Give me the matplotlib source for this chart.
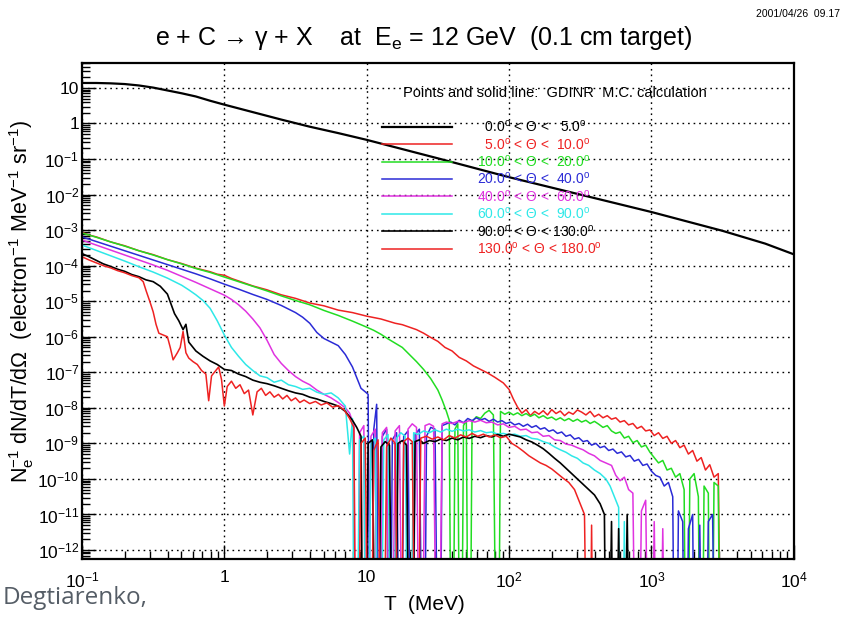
import numpy as np
import matplotlib
matplotlib.use("Agg")
import matplotlib.pyplot as plt
from matplotlib.ticker import LogLocator, FuncFormatter, NullFormatter

plt.rcParams['font.family'] = ['Liberation Sans', 'DejaVu Sans']
plt.rcParams['mathtext.fontset'] = 'custom'
plt.rcParams['mathtext.rm'] = 'Liberation Sans'
plt.rcParams['mathtext.it'] = 'Liberation Sans:italic'
plt.rcParams['mathtext.bf'] = 'Liberation Sans:bold'

# (log10 T[MeV], log10 yield) pairs; -20 marks an empty bin
th0_5 = [(-1.0, 1.14), (-0.9, 1.14), (-0.8, 1.13), (-0.7, 1.11), (-0.6, 1.07), (-0.5, 1.01),
         (-0.4, 0.93), (-0.3, 0.85), (-0.2, 0.76), (-0.1, 0.64), (0.0, 0.53), (0.2, 0.32),
         (0.4, 0.11), (0.6, -0.09), (0.8, -0.27), (1.0, -0.46), (1.5, -0.98), (2.0, -1.51),
         (2.5, -2.0), (3.0, -2.49), (3.5, -3.02), (3.8, -3.38), (4.0, -3.68)]

th5_10 = [(-1.0, -3.06), (-0.95, -3.14), (-0.9, -3.19), (-0.8, -3.33), (-0.7, -3.44), (-0.6, -3.58),
          (-0.5, -3.69), (-0.4, -3.83), (-0.3, -3.94), (-0.2, -4.07), (-0.1, -4.17), (-0.05, -4.24),
          (0.0, -4.27), (0.05, -4.36), (0.1, -4.43), (0.2, -4.57), (0.3, -4.68), (0.4, -4.82),
          (0.5, -4.92), (0.6, -5.05), (0.7, -5.13), (0.8, -5.25), (0.9, -5.32), (1.0, -5.42),
          (1.1, -5.50), (1.2, -5.62), (1.25, -5.66), (1.3, -5.73), (1.35, -5.80), (1.4, -5.90),
          (1.45, -6.02), (1.5, -6.13), (1.55, -6.30), (1.6, -6.40), (1.65, -6.58), (1.7, -6.68),
          (1.75, -6.82), (1.8, -6.92), (1.85, -7.02), (1.9, -7.14), (1.93, -7.22), (1.96, -7.30),
          (2.0, -7.48), (2.03, -7.75), (2.06, -7.98), (2.09, -8.15), (2.12, -8.05), (2.15, -8.22),
          (2.18, -8.10), (2.21, -8.18), (2.24, -8.08), (2.27, -8.20), (2.30, -8.05), (2.33, -8.16),
          (2.36, -8.09), (2.39, -8.22), (2.42, -8.12), (2.45, -8.18), (2.48, -8.06), (2.51, -8.12),
          (2.54, -8.20), (2.57, -8.10), (2.60, -8.25), (2.63, -8.18), (2.66, -8.28), (2.69, -8.22),
          (2.72, -8.32), (2.75, -8.28), (2.78, -8.40), (2.81, -8.36), (2.84, -8.48), (2.87, -8.44),
          (2.90, -8.58), (2.93, -8.52), (2.96, -8.65), (2.99, -8.62), (3.02, -8.78), (3.05, -8.70),
          (3.08, -8.86), (3.11, -8.80), (3.14, -9.00), (3.17, -8.92), (3.20, -9.12), (3.23, -9.05),
          (3.26, -9.30), (3.29, -9.20), (3.32, -9.50), (3.35, -9.40), (3.38, -9.75), (3.41, -9.60),
          (3.44, -9.95), (3.47, -9.85), (3.50, -20)]

th10_20 = [(-1.0, -3.08), (-0.9, -3.20), (-0.8, -3.33), (-0.7, -3.45), (-0.6, -3.58), (-0.5, -3.70),
           (-0.4, -3.83), (-0.3, -3.95), (-0.2, -4.08), (-0.1, -4.19), (0.0, -4.32), (0.1, -4.45),
           (0.2, -4.58), (0.3, -4.71), (0.4, -4.85), (0.5, -4.98), (0.6, -5.10), (0.7, -5.26),
           (0.8, -5.40), (0.9, -5.56), (1.0, -5.73), (1.05, -5.82), (1.1, -5.93), (1.15, -6.06),
           (1.2, -6.18), (1.25, -6.30), (1.3, -6.50), (1.35, -6.70), (1.4, -6.92), (1.45, -7.18),
           (1.5, -7.50), (1.53, -7.78), (1.56, -8.10), (1.58, -8.35), (1.60, -20), (1.62, -8.6),
           (1.64, -8.45), (1.66, -20), (1.68, -8.5), (1.70, -8.35), (1.72, -20), (1.74, -8.4),
           (1.77, -8.25), (1.80, -8.30), (1.83, -8.15), (1.86, -8.07), (1.89, -8.20), (1.92, -20),
           (1.94, -8.10), (1.97, -8.18), (2.00, -8.12), (2.03, -8.20), (2.06, -8.14), (2.09, -8.22),
           (2.12, -8.16), (2.15, -8.24), (2.18, -8.18), (2.21, -8.28), (2.24, -8.22), (2.27, -8.30),
           (2.30, -8.26), (2.33, -8.34), (2.36, -8.28), (2.39, -8.36), (2.42, -8.30), (2.45, -8.38),
           (2.48, -8.32), (2.51, -8.40), (2.54, -8.35), (2.57, -8.44), (2.60, -8.38), (2.63, -8.46),
           (2.66, -8.55), (2.69, -8.50), (2.72, -8.65), (2.75, -8.72), (2.78, -8.68), (2.81, -8.85),
           (2.84, -8.80), (2.87, -8.98), (2.90, -8.92), (2.93, -9.10), (2.96, -9.05), (2.99, -9.25),
           (3.02, -9.40), (3.05, -9.55), (3.08, -9.48), (3.11, -9.75), (3.14, -9.70), (3.17, -9.95),
           (3.20, -9.85), (3.23, -10.3), (3.25, -20), (3.27, -10.0), (3.30, -9.85), (3.33, -10.5),
           (3.35, -20), (3.37, -10.2), (3.40, -10.4), (3.42, -20), (3.44, -10.1), (3.47, -10.2),
           (3.49, -20)]

th20_40 = [(-1.0, -3.19), (-0.9, -3.32), (-0.8, -3.45), (-0.7, -3.58), (-0.6, -3.71), (-0.5, -3.84),
           (-0.4, -3.97), (-0.3, -4.10), (-0.2, -4.23), (-0.1, -4.37), (0.0, -4.52), (0.1, -4.66),
           (0.2, -4.81), (0.3, -4.95), (0.4, -5.12), (0.5, -5.32), (0.55, -5.45), (0.6, -5.62),
           (0.65, -5.88), (0.7, -6.05), (0.75, -6.15), (0.8, -6.25), (0.85, -6.50), (0.9, -6.85),
           (0.93, -7.15), (0.96, -7.45), (0.99, -7.55), (1.01, -7.62), (1.03, -20), (1.05, -8.6),
           (1.07, -7.9), (1.09, -20), (1.11, -8.8), (1.14, -8.6), (1.16, -20), (1.18, -8.9),
           (1.21, -8.7), (1.24, -20), (1.26, -8.8), (1.29, -8.65), (1.32, -20), (1.34, -8.75),
           (1.37, -8.6), (1.40, -20), (1.42, -8.8), (1.45, -8.55), (1.48, -8.6), (1.51, -20),
           (1.53, -8.5), (1.56, -8.45), (1.59, -8.40), (1.62, -8.48), (1.65, -8.35), (1.68, -8.42),
           (1.71, -8.30), (1.74, -8.36), (1.77, -8.28), (1.80, -8.34), (1.83, -8.30), (1.86, -8.38),
           (1.89, -8.32), (1.92, -8.40), (1.95, -8.36), (1.98, -8.44), (2.01, -8.40), (2.04, -8.48),
           (2.07, -8.44), (2.10, -8.52), (2.13, -8.46), (2.16, -8.55), (2.19, -8.50), (2.22, -8.60),
           (2.25, -8.56), (2.28, -8.66), (2.31, -8.62), (2.34, -8.72), (2.37, -8.68), (2.40, -8.80),
           (2.43, -8.76), (2.46, -8.88), (2.49, -8.84), (2.52, -8.95), (2.55, -8.92), (2.58, -9.05),
           (2.61, -9.00), (2.64, -9.12), (2.67, -9.08), (2.70, -9.20), (2.73, -9.16), (2.76, -9.28),
           (2.79, -9.24), (2.82, -9.38), (2.85, -9.34), (2.88, -9.50), (2.91, -9.45), (2.94, -9.62),
           (2.97, -9.58), (3.00, -9.78), (3.03, -9.90), (3.06, -9.95), (3.09, -10.2), (3.12, -10.1),
           (3.15, -10.5), (3.17, -20), (3.19, -10.9), (3.22, -11.2), (3.24, -20), (3.26, -11.4),
           (3.29, -11.0), (3.31, -20), (3.34, -11.3), (3.37, -20), (3.40, -11.2), (3.43, -11.0),
           (3.46, -20)]

th40_60 = [(-1.0, -3.28), (-0.9, -3.42), (-0.8, -3.56), (-0.7, -3.70), (-0.6, -3.84), (-0.5, -3.98),
           (-0.4, -4.13), (-0.3, -4.30), (-0.2, -4.47), (-0.1, -4.65), (0.0, -4.83), (0.05, -4.95),
           (0.1, -5.10), (0.15, -5.28), (0.2, -5.50), (0.25, -5.75), (0.3, -6.10), (0.35, -6.50),
           (0.4, -6.75), (0.45, -6.95), (0.5, -7.12), (0.55, -7.25), (0.6, -7.35), (0.65, -7.50),
           (0.7, -7.62), (0.75, -7.72), (0.8, -7.85), (0.85, -8.0), (0.88, -8.15), (0.91, -8.50),
           (0.93, -20), (0.95, -8.7), (0.98, -8.5), (1.00, -20), (1.03, -8.8), (1.06, -8.6),
           (1.08, -20), (1.11, -8.7), (1.14, -8.55), (1.17, -20), (1.20, -8.65), (1.23, -8.5),
           (1.26, -20), (1.29, -8.6), (1.32, -8.45), (1.35, -8.55), (1.38, -20), (1.41, -8.5),
           (1.44, -8.45), (1.47, -8.52), (1.50, -20), (1.53, -8.45), (1.56, -8.40), (1.60, -8.44),
           (1.64, -8.38), (1.68, -8.42), (1.72, -8.36), (1.76, -8.40), (1.80, -8.35), (1.84, -8.42),
           (1.88, -8.40), (1.92, -8.48), (1.96, -8.45), (2.00, -8.55), (2.04, -8.52), (2.08, -8.62),
           (2.12, -8.60), (2.16, -8.70), (2.20, -8.68), (2.24, -8.80), (2.28, -8.78), (2.32, -8.90),
           (2.36, -8.92), (2.40, -9.02), (2.44, -9.05), (2.48, -9.12), (2.52, -9.18), (2.56, -9.28),
           (2.60, -9.35), (2.64, -9.48), (2.68, -9.55), (2.72, -9.62), (2.75, -9.90), (2.78, -10.05),
           (2.81, -9.95), (2.84, -10.3), (2.87, -10.4), (2.90, -20), (2.93, -10.9), (2.96, -10.6),
           (2.99, -20), (3.02, -11.2), (3.05, -20), (3.08, -11.4), (3.11, -20)]

th60_90 = [(-1.0, -3.42), (-0.9, -3.57), (-0.8, -3.72), (-0.7, -3.87), (-0.6, -4.03), (-0.5, -4.18),
           (-0.4, -4.35), (-0.3, -4.55), (-0.25, -4.68), (-0.2, -4.82), (-0.15, -4.98), (-0.1, -5.20),
           (-0.05, -5.55), (0.0, -5.95), (0.05, -6.30), (0.1, -6.55), (0.15, -6.78), (0.2, -6.95),
           (0.25, -7.10), (0.3, -7.15), (0.35, -7.28), (0.4, -7.22), (0.45, -7.35), (0.5, -7.40),
           (0.55, -7.48), (0.6, -7.45), (0.65, -7.56), (0.7, -7.62), (0.75, -7.58), (0.8, -7.72),
           (0.85, -7.95), (0.88, -9.30), (0.90, -8.30), (0.92, -20), (0.95, -8.9), (0.98, -8.8),
           (1.00, -20), (1.03, -9.0), (1.06, -8.85), (1.09, -20), (1.12, -8.9), (1.15, -8.75),
           (1.18, -20), (1.21, -8.85), (1.24, -8.7), (1.27, -8.8), (1.30, -20), (1.33, -8.7),
           (1.36, -8.75), (1.40, -8.65), (1.44, -8.70), (1.48, -8.62), (1.52, -8.68), (1.56, -8.60),
           (1.60, -8.66), (1.64, -8.60), (1.68, -8.65), (1.72, -8.62), (1.76, -8.68), (1.80, -8.64),
           (1.84, -8.70), (1.88, -8.68), (1.92, -8.74), (1.96, -8.72), (2.00, -8.76), (2.04, -8.74),
           (2.08, -8.80), (2.12, -8.78), (2.16, -8.86), (2.20, -8.88), (2.24, -8.95), (2.28, -9.0),
           (2.32, -9.10), (2.36, -9.18), (2.40, -9.25), (2.44, -9.35), (2.48, -9.42), (2.52, -9.55),
           (2.56, -9.62), (2.60, -9.75), (2.64, -9.85), (2.68, -10.0), (2.71, -10.2), (2.74, -10.5),
           (2.77, -10.8), (2.79, -20), (2.81, -11.2), (2.83, -20)]

th90_130 = [(-1.0, -3.66), (-0.95, -3.75), (-0.9, -3.85), (-0.85, -3.95), (-0.8, -4.02), (-0.75, -4.10),
            (-0.7, -4.16), (-0.65, -4.25), (-0.6, -4.31), (-0.55, -4.40), (-0.5, -4.45), (-0.45, -4.58),
            (-0.4, -4.80), (-0.35, -5.35), (-0.32, -5.55), (-0.29, -5.80), (-0.27, -5.65), (-0.25, -6.15),
            (-0.2, -6.40), (-0.15, -6.55), (-0.1, -6.68), (-0.05, -6.78), (0.0, -6.92), (0.05, -6.95),
            (0.1, -7.05), (0.15, -7.12), (0.2, -7.22), (0.25, -7.28), (0.3, -7.32), (0.35, -7.38),
            (0.4, -7.45), (0.45, -7.52), (0.5, -7.58), (0.55, -7.62), (0.6, -7.70), (0.65, -7.75),
            (0.7, -7.82), (0.75, -7.88), (0.8, -7.95), (0.85, -8.10), (0.9, -8.35), (0.93, -8.55),
            (0.96, -8.80), (0.98, -20), (1.01, -9.0), (1.04, -8.9), (1.07, -20), (1.10, -9.1),
            (1.13, -8.95), (1.16, -9.05), (1.19, -20), (1.22, -9.0), (1.25, -8.92), (1.28, -9.05),
            (1.31, -20), (1.34, -8.95), (1.37, -8.9), (1.40, -9.0), (1.44, -8.92), (1.48, -8.95),
            (1.52, -8.88), (1.56, -8.92), (1.60, -8.85), (1.64, -8.90), (1.68, -8.82), (1.72, -8.86),
            (1.76, -8.80), (1.80, -8.84), (1.84, -8.78), (1.88, -8.82), (1.92, -8.75), (1.96, -8.80),
            (2.00, -8.74), (2.04, -8.78), (2.08, -8.82), (2.12, -8.90), (2.16, -8.96), (2.20, -9.05),
            (2.24, -9.15), (2.28, -9.28), (2.32, -9.42), (2.36, -9.55), (2.40, -9.70), (2.44, -9.85),
            (2.48, -10.0), (2.52, -10.15), (2.56, -10.3), (2.60, -10.45), (2.64, -10.7), (2.67, -11.0),
            (2.69, -20), (2.72, -11.2), (2.74, -20), (2.77, -11.4), (2.80, -20), (2.83, -11.0),
            (2.86, -20)]

th130_180 = [(-1.0, -3.75), (-0.95, -3.84), (-0.9, -3.92), (-0.85, -4.00), (-0.8, -4.06), (-0.75, -4.14),
             (-0.7, -4.20), (-0.65, -4.28), (-0.6, -4.34), (-0.57, -4.45), (-0.55, -4.70), (-0.52, -5.05),
             (-0.50, -5.30), (-0.48, -5.65), (-0.46, -5.90), (-0.43, -5.95), (-0.40, -6.0), (-0.38, -6.30),
             (-0.36, -6.65), (-0.33, -6.45), (-0.31, -6.30), (-0.29, -5.85), (-0.27, -6.45), (-0.25, -6.60),
             (-0.22, -6.70), (-0.19, -6.78), (-0.16, -6.95), (-0.13, -7.05), (-0.11, -7.80), (-0.09, -7.10),
             (-0.07, -7.00), (-0.04, -6.85), (-0.02, -7.20), (0.00, -7.95), (0.02, -7.40), (0.05, -7.25),
             (0.08, -7.45), (0.11, -7.35), (0.14, -7.60), (0.17, -7.50), (0.20, -8.20), (0.23, -7.55),
             (0.26, -7.45), (0.29, -7.65), (0.32, -7.55), (0.35, -7.70), (0.38, -7.62), (0.41, -7.75),
             (0.44, -7.65), (0.47, -7.80), (0.50, -7.72), (0.53, -7.85), (0.56, -7.78), (0.60, -7.88),
             (0.64, -7.82), (0.68, -7.92), (0.72, -7.86), (0.76, -7.98), (0.80, -7.94), (0.84, -8.05),
             (0.88, -8.30), (0.91, -8.55), (0.93, -20), (0.96, -9.0), (0.99, -8.85), (1.02, -20),
             (1.05, -9.2), (1.08, -8.9), (1.11, -20), (1.14, -9.1), (1.17, -8.85), (1.20, -9.0),
             (1.23, -20), (1.26, -8.95), (1.29, -8.85), (1.32, -8.95), (1.35, -20), (1.38, -8.85),
             (1.42, -8.80), (1.46, -8.88), (1.50, -8.82), (1.54, -8.90), (1.58, -8.78), (1.62, -8.85),
             (1.66, -8.76), (1.70, -8.82), (1.74, -8.72), (1.78, -8.80), (1.82, -8.74), (1.86, -8.82),
             (1.90, -8.76), (1.94, -8.84), (1.98, -8.80), (2.02, -9.0), (2.06, -9.10), (2.10, -9.22),
             (2.14, -9.35), (2.18, -9.45), (2.22, -9.55), (2.26, -9.62), (2.30, -9.72), (2.34, -9.85),
             (2.38, -9.98), (2.42, -10.1), (2.46, -10.3), (2.50, -10.7), (2.53, -11.0), (2.56, -20),
             (2.58, -11.3), (2.60, -20)]

series = [th0_5, th5_10, th10_20, th20_40, th40_60, th60_90, th90_130, th130_180]
labels = [r'  0.0$^{\rm o}$ < Θ <   5.0$^{\rm o}$',
          r'  5.0$^{\rm o}$ < Θ <  10.0$^{\rm o}$',
          r'10.0$^{\rm o}$ < Θ <  20.0$^{\rm o}$',
          r'20.0$^{\rm o}$ < Θ <  40.0$^{\rm o}$',
          r'40.0$^{\rm o}$ < Θ <  60.0$^{\rm o}$',
          r'60.0$^{\rm o}$ < Θ <  90.0$^{\rm o}$',
          r'90.0$^{\rm o}$ < Θ < 130.0$^{\rm o}$',
          r'130.0$^{\rm o}$ < Θ < 180.0$^{\rm o}$']
colors = ['black', '#ee2222', '#22dd22', '#2b2bd6', '#e033e0', '#2ee8e8', 'black', '#ee2222']


def log_label(v, pos):
    k = int(round(np.log10(v)))
    if k == 0:
        return '1'
    if k == 1:
        return '10'
    return r'$10^{%d}$' % k


fig = plt.figure(figsize=(8.48, 6.21), dpi=100)
ax = fig.add_axes([0.0967, 0.1, 0.8393, 0.799])

handles = []
for pts, col in zip(series, colors):
    lt, ly = np.array(pts).T
    h, = ax.plot(10 ** lt, 10 ** ly, color=col, lw=1.1 if col != 'black' else 1.2)
    handles.append(h)
handles[0].set_linewidth(1.6)

ax.set_xscale('log')
ax.set_yscale('log')
ax.set_xlim(0.1, 1e4)
ax.set_ylim(10 ** -12.25, 10 ** 1.71)

ax.xaxis.set_major_locator(LogLocator(base=10, numticks=20))
ax.yaxis.set_major_locator(LogLocator(base=10, numticks=30))
ax.xaxis.set_minor_locator(LogLocator(base=10, subs=np.arange(2, 10), numticks=50))
ax.yaxis.set_minor_locator(LogLocator(base=10, subs=np.arange(2, 10), numticks=50))
ax.xaxis.set_major_formatter(FuncFormatter(log_label))
ax.yaxis.set_major_formatter(FuncFormatter(log_label))
ax.xaxis.set_minor_formatter(NullFormatter())
ax.yaxis.set_minor_formatter(NullFormatter())
ax.tick_params(which='both', direction='in', labelsize=12.5, width=1)
ax.tick_params(which='major', length=10)
ax.tick_params(which='minor', length=6)
ax.tick_params(axis='x', pad=8)
ax.tick_params(axis='y', pad=2)
ax.grid(True, which='major', color='black', linestyle=(0, (1.2, 2.8)), linewidth=1.0)
for s in ax.spines.values():
    s.set_linewidth(1.6)

ax.legend(handles, labels, loc='upper left', bbox_to_anchor=(0.422, 0.887), frameon=False,
          fontsize=10, handlelength=5, handletextpad=1.8, labelspacing=0.1,
          borderpad=0, borderaxespad=0, labelcolor='linecolor')
ax.text(0.664, 0.939, 'Points and solid line:  GDINR  M.C. calculation', transform=ax.transAxes,
        ha='center', va='center', fontsize=10.5)

fig.text(0.5, 0.939, r'e + C → γ + X    at  E$_{\rm e}$ = 12 GeV  (0.1 cm target)',
         ha='center', va='center', fontsize=18)
fig.text(0.99, 0.978, '2001/04/26  09.17', ha='right', va='center', fontsize=7.5)
fig.text(0.026, 0.514, r'N$_{\rm e}^{-1}$ dN/dT/dΩ  (electron$^{-1}$ MeV$^{-1}$ sr$^{-1}$)',
         rotation=90, ha='center', va='center', fontsize=15.5)
fig.text(0.501, 0.026, 'T  (MeV)', ha='center', va='center', fontsize=15)
fig.text(0.003, 0.028, 'Degtiarenko,', ha='left', va='baseline', fontsize=17.5,
         color='#555d66', family='Open Sans')

fig.savefig('out.png', dpi=100)
